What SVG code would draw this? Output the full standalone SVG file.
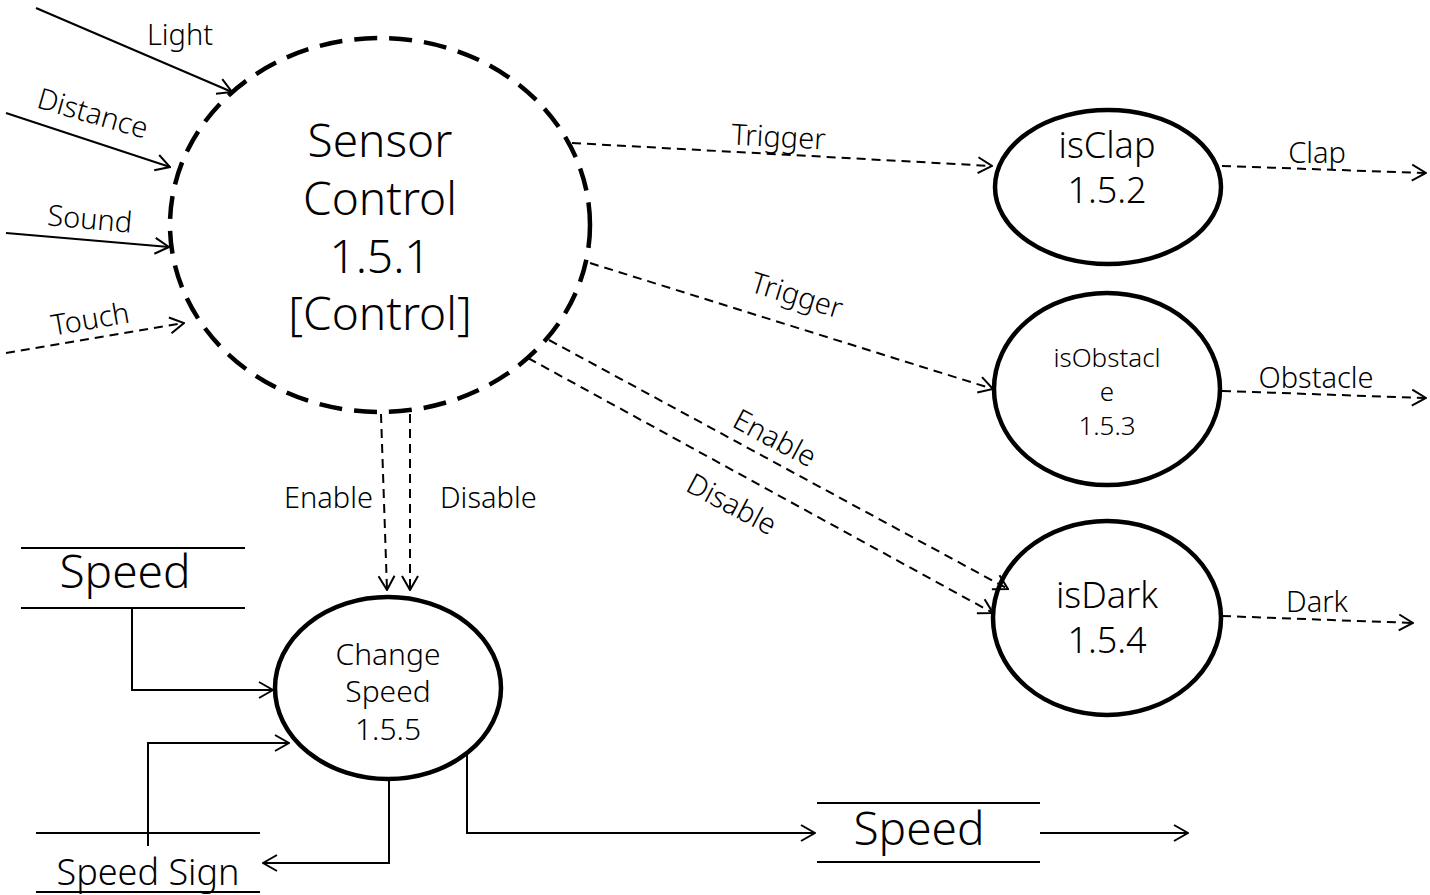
<svg xmlns="http://www.w3.org/2000/svg" width="1430" height="895" viewBox="0 0 1430 895">
  <style>
    text { font-family: "Noto Sans", "Open Sans", "DejaVu Sans", sans-serif; font-weight: 300; fill: #000; }
    .lbl { font-size: 29px; }
    .big { font-size: 46px; text-anchor: middle; }
    .mid { font-size: 36px; text-anchor: middle; }
    .sm { font-size: 26px; text-anchor: middle; }
    .cs { font-size: 30px; text-anchor: middle; }
    .proc { fill: #fff; stroke: #000; stroke-width: 4.5; }
    .ctrl { fill: #fff; stroke: #000; stroke-width: 4.5; stroke-dasharray: 23 12; }
    .flow { fill: none; stroke: #000; stroke-width: 2; marker-end: url(#arr); }
    .dash { stroke-dasharray: 9 6; }
    .store { stroke: #000; stroke-width: 2; }
  </style>
  <defs>
    <marker id="arr" markerUnits="userSpaceOnUse" viewBox="0 0 16 20" refX="15" refY="10" markerWidth="16" markerHeight="20" orient="auto">
      <path d="M1,2 L15,10 L1,18" fill="none" stroke="#000" stroke-width="2" stroke-dasharray="none"/>
    </marker>
  </defs>

  <rect width="1430" height="895" fill="#fff"/>

  <!-- process bubbles -->
  <g id="sensor-control">
    <ellipse class="ctrl" cx="380" cy="225" rx="210" ry="187"/>
    <text class="big" x="380" y="157">Sensor</text>
    <text class="big" x="380" y="215">Control</text>
    <text class="big" x="380" y="273">1.5.1</text>
    <text class="big" x="380" y="330">[Control]</text>
  </g>

  <g id="is-clap">
    <ellipse class="proc" cx="1108" cy="187" rx="113" ry="77"/>
    <text class="mid" x="1107" y="158">isClap</text>
    <text class="mid" x="1107" y="203">1.5.2</text>
  </g>

  <g id="is-obstacle">
    <ellipse class="proc" cx="1107" cy="389" rx="113" ry="96"/>
    <text class="sm" x="1107" y="367">isObstacl</text>
    <text class="sm" x="1107" y="401">e</text>
    <text class="sm" x="1107" y="435">1.5.3</text>
  </g>

  <g id="is-dark">
    <ellipse class="proc" cx="1107" cy="618" rx="114" ry="97"/>
    <text class="mid" x="1107" y="608">isDark</text>
    <text class="mid" x="1107" y="653">1.5.4</text>
  </g>

  <g id="change-speed">
    <ellipse class="proc" cx="388" cy="688" rx="113" ry="91"/>
    <text class="cs" x="388" y="665">Change</text>
    <text class="cs" x="388" y="702">Speed</text>
    <text class="cs" x="388" y="740">1.5.5</text>
  </g>

  <!-- data stores -->
  <g id="store-speed-in">
    <line class="store" x1="21" y1="548" x2="245" y2="548"/>
    <line class="store" x1="21" y1="608" x2="245" y2="608"/>
    <text class="big" x="125" y="588">Speed</text>
  </g>

  <g id="store-speed-sign">
    <line class="store" x1="36" y1="833" x2="260" y2="833"/>
    <line class="store" x1="36" y1="892" x2="260" y2="892"/>
    <text x="148" y="885" font-size="36" text-anchor="middle">Speed Sign</text>
  </g>

  <g id="store-speed-out">
    <line class="store" x1="817" y1="803" x2="1040" y2="803"/>
    <line class="store" x1="817" y1="862" x2="1040" y2="862"/>
    <text class="big" x="919" y="845">Speed</text>
  </g>

  <!-- flows -->
  <g id="connectors">
    <line class="flow" x1="36" y1="8" x2="232" y2="92"/>
    <line class="flow" x1="6" y1="113" x2="170" y2="167"/>
    <line class="flow" x1="6" y1="233" x2="169" y2="247"/>
    <line class="flow dash" x1="6" y1="353" x2="184" y2="323"/>

    <line class="flow dash" x1="572" y1="143" x2="992" y2="166"/>
    <line class="flow dash" x1="590" y1="263" x2="993" y2="389"/>
    <line class="flow dash" x1="549" y1="340" x2="1008" y2="589"/>
    <line class="flow dash" x1="528" y1="358" x2="993" y2="613"/>

    <line class="flow dash" x1="381" y1="414" x2="387" y2="590"/>
    <line class="flow dash" x1="410" y1="414" x2="410" y2="590"/>

    <line class="flow dash" x1="1222" y1="166" x2="1426" y2="173"/>
    <line class="flow dash" x1="1222" y1="391" x2="1426" y2="398"/>
    <line class="flow dash" x1="1222" y1="616" x2="1413" y2="623"/>

    <polyline class="flow" points="132,608 132,690 273,690"/>
    <polyline class="flow" points="148,846 148,743 289,743"/>
    <polyline class="flow" points="389,780 389,863 263,863"/>
    <polyline class="flow" points="467,755 467,833 815,833"/>
    <line class="flow" x1="1040" y1="833" x2="1188" y2="833"/>
  </g>

  <!-- flow labels -->
  <g id="flow-labels" class="lbl">
    <text x="180" y="45" text-anchor="middle">Light</text>
    <text x="90" y="123" text-anchor="middle" transform="rotate(16 90 123)">Distance</text>
    <text x="89" y="229" text-anchor="middle" transform="rotate(5 89 229)">Sound</text>
    <text x="92" y="329" text-anchor="middle" transform="rotate(-10 92 329)">Touch</text>
    <text x="778" y="147" text-anchor="middle" transform="rotate(3 778 147)">Trigger</text>
    <text x="794" y="305" text-anchor="middle" transform="rotate(17 794 305)">Trigger</text>
    <text x="770" y="447" text-anchor="middle" transform="rotate(28 770 447)">Enable</text>
    <text x="727" y="513" text-anchor="middle" transform="rotate(28 727 513)">Disable</text>
    <text x="373" y="508" text-anchor="end">Enable</text>
    <text x="440" y="508">Disable</text>
    <text x="1317" y="163" text-anchor="middle">Clap</text>
    <text x="1316" y="388" text-anchor="middle">Obstacle</text>
    <text x="1317" y="612" text-anchor="middle">Dark</text>
  </g>
</svg>
